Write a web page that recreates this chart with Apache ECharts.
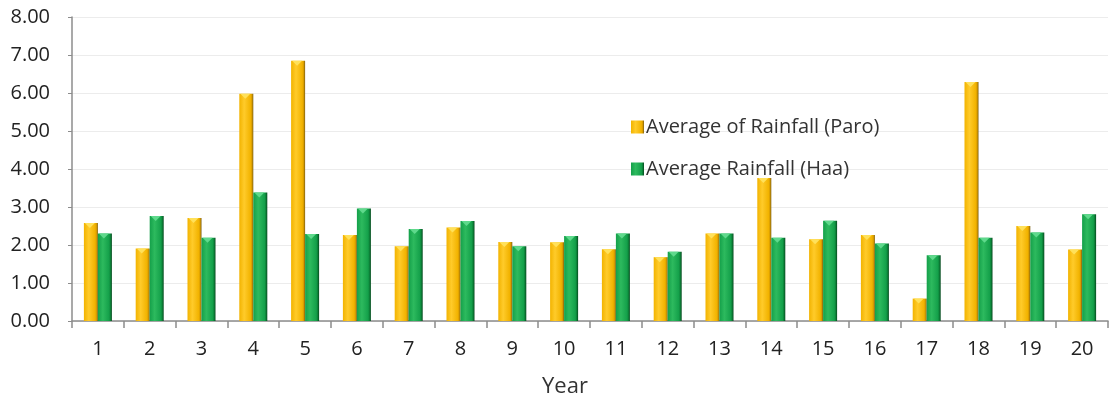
<!DOCTYPE html>
<html>
<head>
<meta charset="utf-8">
<script src="https://cdn.jsdelivr.net/npm/echarts@6/dist/echarts.min.js"></script>
<style>
  html, body { margin: 0; padding: 0; background: #fff; }
  #chart { width: 1115px; height: 398px; }
</style>
</head>
<body>
<div id="chart"></div>
<script>
// Years 1..20 on the category axis
const years = ['1','2','3','4','5','6','7','8','9','10','11','12','13','14','15','16','17','18','19','20'];

// Average rainfall per year
const paro = [2.58, 1.91, 2.71, 5.98, 6.85, 2.26, 1.97, 2.46, 2.08, 2.07, 1.89, 1.68, 2.30, 3.76, 2.15, 2.26, 0.59, 6.29, 2.50, 1.88];
const haa  = [2.30, 2.76, 2.19, 3.38, 2.29, 2.96, 2.42, 2.63, 1.97, 2.24, 2.30, 1.82, 2.30, 2.19, 2.64, 2.04, 1.73, 2.19, 2.33, 2.81];

const yTicks = { min: 0, max: 8, interval: 1 };

const seriesNames = ['Average of Rainfall (Paro)', 'Average Rainfall (Haa)'];

const FONT = 'Open Sans';

// Rounded, shaded column look: lighter body, darker right rim
function barGradient(edgeL, mid, edgeR, dark) {
  return new echarts.graphic.LinearGradient(0, 0, 1, 0, [
    { offset: 0, color: edgeL },
    { offset: 0.35, color: mid },
    { offset: 0.8, color: edgeL },
    { offset: 0.9, color: edgeR },
    { offset: 1, color: dark }
  ]);
}

// Small bevel highlight sitting on each column top
function capSeries(name, data, color) {
  return {
    name: name,
    type: 'pictorialBar',
    data: data,
    barWidth: 14,
    barGap: '0%',
    symbol: 'path://M0,0 L10,0 L5,5 Z',
    symbolSize: [10, 5],
    symbolPosition: 'end',
    symbolOffset: [-1, 0],
    z: 5,
    itemStyle: { color: color },
    silent: true
  };
}

const chart = echarts.init(document.getElementById('chart'));
chart.setOption({
  animation: false,
  textStyle: { fontFamily: FONT },
  grid: { left: 72, right: 7, top: 17, bottom: 77, outerBoundsMode: 'none', containLabel: false },
  legend: {
    orient: 'vertical',
    left: 626,
    top: 112,
    itemWidth: 13,
    itemHeight: 13,
    itemGap: 22,
    icon: 'rect',
    textStyle: { fontFamily: FONT, fontSize: 20, color: '#333', padding: [0, 0, 0, -3] },
    data: seriesNames
  },
  xAxis: {
    type: 'category',
    data: years,
    name: 'Year',
    nameLocation: 'middle',
    nameGap: 55,
    nameTextStyle: { fontFamily: FONT, fontSize: 22, color: '#333', padding: [0, 50, 0, 0] },
    axisLine: { lineStyle: { color: '#8c8c8c', width: 1.5 } },
    axisTick: { show: true, length: 7, lineStyle: { color: '#8c8c8c', width: 1.5 } },
    axisLabel: { fontFamily: FONT, fontSize: 20, color: '#222', margin: 18 }
  },
  yAxis: {
    type: 'value',
    min: yTicks.min,
    max: yTicks.max,
    interval: yTicks.interval,
    axisLine: { show: true, lineStyle: { color: '#8c8c8c', width: 1.5 } },
    axisTick: { show: true, length: 4, lineStyle: { color: '#8c8c8c' } },
    axisLabel: { fontFamily: FONT, fontSize: 20, color: '#222', margin: 22, formatter: v => v.toFixed(2) },
    splitLine: { lineStyle: { color: '#ececec', width: 1 } }
  },
  series: [
    {
      name: seriesNames[0],
      type: 'bar',
      data: paro,
      barWidth: 14,
      barGap: '0%',
      itemStyle: { color: barGradient('#F2B300', '#FFCB2A', '#D69A00', '#7A5E10') }
    },
    {
      name: seriesNames[1],
      type: 'bar',
      data: haa,
      barWidth: 14,
      barGap: '0%',
      itemStyle: { color: barGradient('#14A04A', '#2DBA5E', '#0C7F37', '#05471D') }
    },
    capSeries(seriesNames[0], paro, '#FFE15A'),
    capSeries(seriesNames[1], haa, '#5FD98C')
  ]
});
</script>
</body>
</html>
